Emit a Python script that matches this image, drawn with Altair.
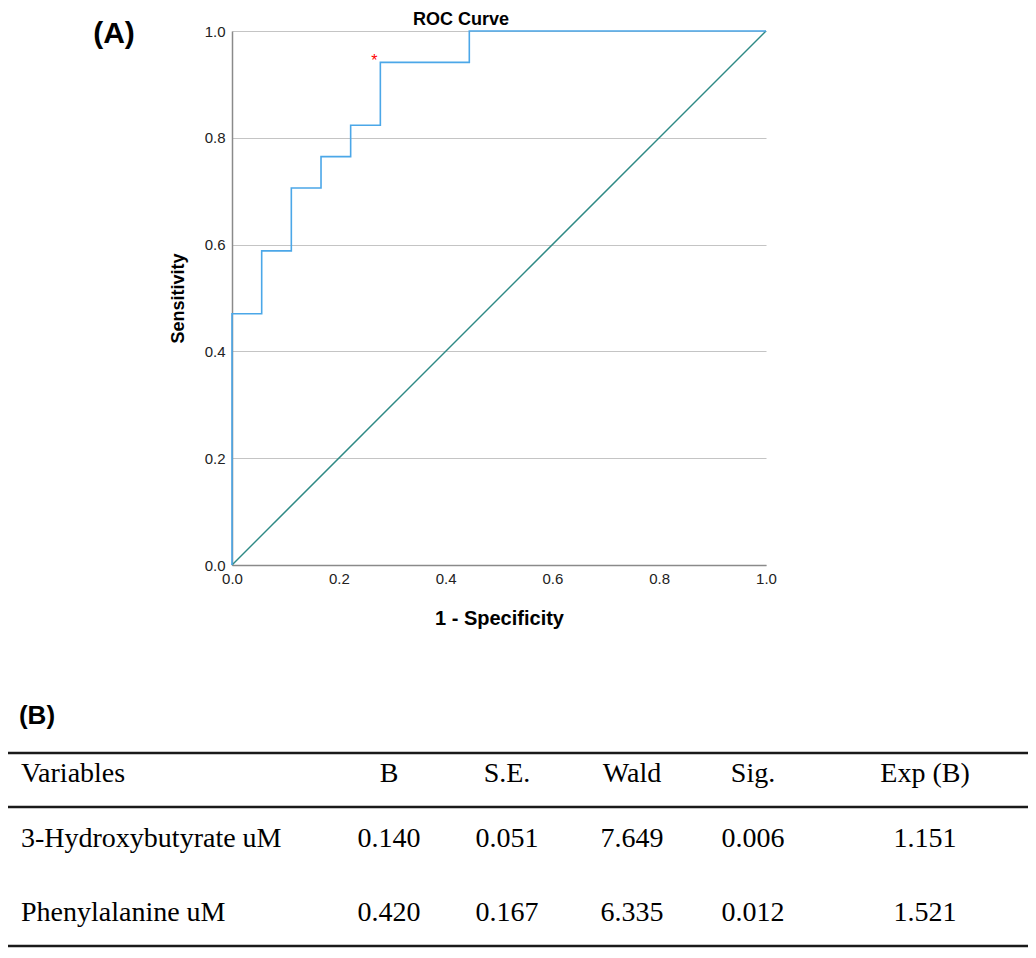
import altair as alt
import pandas as pd

# ---------------- data ----------------
# ROC curve corners (1 - specificity, sensitivity)
roc_fpr = [0.0, 0.0, 0.0556, 0.0556, 0.1111, 0.1111, 0.1667, 0.1667,
           0.2222, 0.2222, 0.2778, 0.2778, 0.4444, 0.4444, 1.0]
roc_tpr = [0.0, 0.4706, 0.4706, 0.5882, 0.5882, 0.7059, 0.7059, 0.7647,
           0.7647, 0.8235, 0.8235, 0.9412, 0.9412, 1.0, 1.0]
ref_x = [0.0, 1.0]
ref_y = [0.0, 1.0]
cutoff_x = [0.2778]
cutoff_y = [0.9412]
axis_ticks = [0.0, 0.2, 0.4, 0.6, 0.8, 1.0]

# Table (B)
table_header = ["Variables", "B", "S.E.", "Wald", "Sig.", "Exp (B)"]
table_variables = ["3-Hydroxybutyrate uM", "Phenylalanine uM"]
col_B = ["0.140", "0.420"]
col_SE = ["0.051", "0.167"]
col_Wald = ["7.649", "6.335"]
col_Sig = ["0.006", "0.012"]
col_Exp = ["1.151", "1.521"]

# ---------------- layout (pixels, relative to the plot origin) ----------------
W, H = 534, 534
COL_X = [-211, 157, 275, 400, 521, 693]
ROW_Y = [750.7, 815.7, 889.5]
RULE_Y = [722, 776, 915]
RULE_X = (-224, 796)

SANS = "Liberation Sans"
SERIF = "Liberation Serif"

scale_x = alt.Scale(domain=[0, 1], nice=False, zero=False)
scale_y = alt.Scale(domain=[0, 1], nice=False, zero=False)

roc_df = pd.DataFrame({"fpr": roc_fpr, "tpr": roc_tpr, "idx": list(range(len(roc_fpr)))})
ref_df = pd.DataFrame({"fpr": ref_x, "tpr": ref_y})
cut_df = pd.DataFrame({"fpr": cutoff_x, "tpr": cutoff_y})

diag = alt.Chart(ref_df).mark_line(color="#2e8a85", strokeWidth=1.5).encode(
    x=alt.X("fpr:Q", scale=scale_x,
            axis=alt.Axis(title="1 - Specificity", values=axis_ticks, format=".1f",
                          grid=False, ticks=False, tickSize=0, labelPadding=6,
                          labelFlush=False, titlePadding=22, titleFontSize=20)),
    y=alt.Y("tpr:Q", scale=scale_y,
            axis=alt.Axis(title="Sensitivity", values=axis_ticks, format=".1f",
                          grid=True, ticks=False, tickSize=0, labelPadding=7,
                          labelFlush=False, titlePadding=17, titleFontSize=18)),
)

roc = alt.Chart(roc_df).mark_line(color="#4ba7e8", strokeWidth=1.6).encode(
    x=alt.X("fpr:Q", scale=scale_x),
    y=alt.Y("tpr:Q", scale=scale_y),
    order="idx:Q",
)

star = alt.Chart(cut_df).mark_text(text="*", color="#ff0000", fontSize=16, font=SANS,
                                   dx=-6, dy=4, baseline="alphabetic").encode(
    x=alt.X("fpr:Q", scale=scale_x),
    y=alt.Y("tpr:Q", scale=scale_y),
)

def label(txt, x, y, size, weight="bold", align="center", font=SANS):
    return alt.Chart(pd.DataFrame({"t": [txt]})).mark_text(
        fontSize=size, fontWeight=weight, align=align, baseline="alphabetic",
        font=font, color="#000000").encode(
        text="t:N", x=alt.value(x), y=alt.value(y))

title_roc = label("ROC Curve", 229, -6, 18)
tag_a = label("(A)", -118, 12, 30)
tag_b = label("(B)", -195, 692.5, 26)

# table cells
first_col = [table_header[0]] + table_variables
left_df = pd.DataFrame({"t": first_col, "px": [COL_X[0]] * 3, "py": ROW_Y})
num_cols = [col_B, col_SE, col_Wald, col_Sig, col_Exp]
rows = []
for j, col in enumerate(num_cols):
    rows.append({"t": table_header[j + 1], "px": COL_X[j + 1], "py": ROW_Y[0]})
    for i, v in enumerate(col):
        rows.append({"t": v, "px": COL_X[j + 1], "py": ROW_Y[i + 1]})
num_df = pd.DataFrame(rows)
rule_df = pd.DataFrame({"py": RULE_Y})

tbl_left = alt.Chart(left_df).mark_text(font=SERIF, fontSize=28, align="left",
                                        baseline="alphabetic", color="#000000").encode(
    text="t:N",
    x=alt.X("px:Q", scale=None, axis=None),
    y=alt.Y("py:Q", scale=None, axis=None),
)
tbl_num = alt.Chart(num_df).mark_text(font=SERIF, fontSize=28, align="center",
                                      baseline="alphabetic", color="#000000").encode(
    text="t:N",
    x=alt.X("px:Q", scale=None, axis=None),
    y=alt.Y("py:Q", scale=None, axis=None),
)
tbl_rules = alt.Chart(rule_df).mark_rule(color="#1a1a1a", strokeWidth=2.5).encode(
    x=alt.value(RULE_X[0]), x2=alt.value(RULE_X[1]),
    y=alt.Y("py:Q", scale=None, axis=None),
)

chart = alt.layer(
    diag, roc, star, title_roc, tag_a, tag_b, tbl_rules, tbl_left, tbl_num
).properties(
    width=W, height=H,
    autosize=alt.AutoSizeParams(type="none"),
    padding={"left": 224, "top": 23, "right": 262, "bottom": 383},
).configure_view(stroke=None).configure_axis(
    domainColor="#8a8a8a", domainWidth=1.5,
    gridColor="#c4c4c4", gridWidth=1.2,
    labelFont=SANS, labelFontSize=15, labelColor="#222222",
    titleFont=SANS, titleFontWeight="bold", titleColor="#000000",
)

chart.save("out.html", embed_options={"renderer": "svg", "actions": False})
